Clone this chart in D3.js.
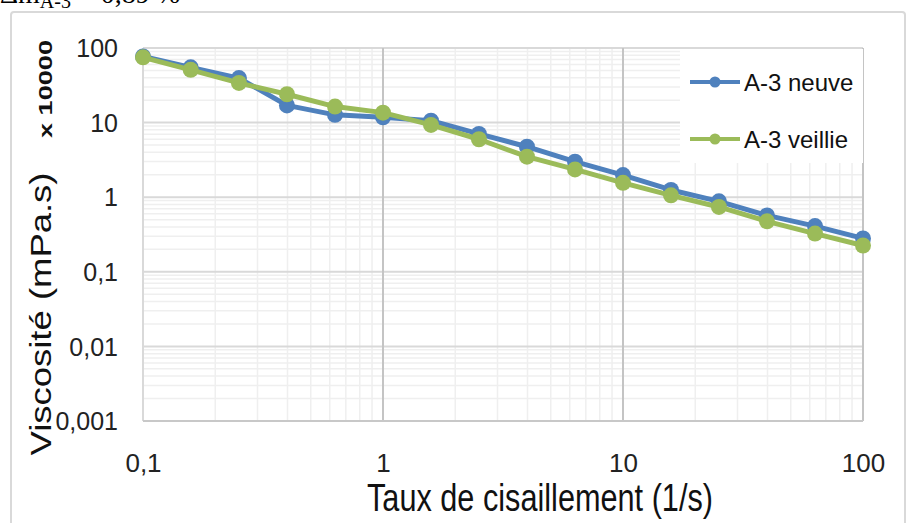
<!DOCTYPE html>
<html>
<head>
<meta charset="utf-8">
<script src="https://cdn.jsdelivr.net/npm/d3@7"></script>
<style>
html,body{margin:0;padding:0;background:#fff;}
svg{display:block;}
</style>
</head>
<body>
<svg id="chart" width="907" height="523"></svg>
<script>
// ---- data ----
const shearRates = [0.1, 0.158, 0.251, 0.398, 0.631, 1, 1.585, 2.51, 3.98, 6.31, 10, 15.85, 25.1, 39.8, 63.1, 100];
const neuve   = [77, 55, 39.5, 17, 12.7, 11.8, 10.6, 7.05, 4.75, 2.99, 1.98, 1.25, 0.88, 0.57, 0.41, 0.28];
const veillie = [75, 51, 34, 24, 16.4, 13.6, 9.3, 5.98, 3.49, 2.36, 1.56, 1.06, 0.74, 0.475, 0.325, 0.225];
const seriesNames = ["A-3 neuve", "A-3 veillie"];
const xTickValues = [0.1, 1, 10, 100];
const xTickLabels = ["0,1", "1", "10", "100"];
const yTickValues = [0.001, 0.01, 0.1, 1, 10, 100];
const yTickLabels = ["0,001", "0,01", "0,1", "1", "10", "100"];
const xTitle = "Taux de cisaillement (1/s)";
const yTitle = "Viscosité (mPa.s)";
const yMultiplier = "x 10000";

// ---- layout ----
const svg = d3.select("#chart");
const L = 143, R = 863, T = 48, B = 421;
const colors = ["#4f81bd", "#9bbb59"];
const tickFont = "'Liberation Sans Narrow','Liberation Sans',Arial,sans-serif";

// header text (cut off at top, as in the source image)
const head = svg.append("text").attr("x", 0).attr("y", 3)
  .attr("font-family", "'Liberation Serif','DejaVu Serif',serif").attr("font-size", 28).attr("fill", "#000");
head.append("tspan").text("Δm");
head.append("tspan").attr("dy", 5).attr("font-size", 20).text("A-3");
head.append("tspan").attr("dy", -5).text(" = 0,89 %");

// chart frame
svg.append("rect").attr("x", 11).attr("y", 12).attr("width", 894).attr("height", 600)
  .attr("rx", 3).attr("fill", "#fff").attr("stroke", "#d9d9d9").attr("stroke-width", 2);

const x = d3.scaleLog().domain([0.1, 100]).range([L, R]);
const y = d3.scaleLog().domain([0.001, 100]).range([B, T]);

// gridlines
const minorX = [], minorY = [];
for (let d = 0.1; d < 100; d *= 10) for (let k = 2; k <= 9; k++) minorX.push(+(d * k).toPrecision(3));
for (let d = 0.001; d < 100; d *= 10) for (let k = 2; k <= 9; k++) minorY.push(+(d * k).toPrecision(3));

const grid = svg.append("g");
grid.selectAll(".mh").data(minorY).join("line")
  .attr("x1", L).attr("x2", R).attr("y1", d => y(d)).attr("y2", d => y(d))
  .attr("stroke", "#efefef").attr("stroke-width", 1.5);
grid.selectAll(".mv").data(minorX).join("line")
  .attr("y1", T).attr("y2", B).attr("x1", d => x(d)).attr("x2", d => x(d))
  .attr("stroke", "#efefef").attr("stroke-width", 1.5);
grid.selectAll(".Mh").data(yTickValues.slice(1)).join("line")
  .attr("x1", L).attr("x2", R).attr("y1", d => y(d)).attr("y2", d => y(d))
  .attr("stroke", "#d9d9d9").attr("stroke-width", 2);
grid.selectAll(".Mv").data(xTickValues).join("line")
  .attr("y1", T).attr("y2", B).attr("x1", d => x(d)).attr("x2", d => x(d))
  .attr("stroke", d => (d === 0.1 ? "#d9d9d9" : "#c4c4c4")).attr("stroke-width", 2);
grid.append("line").attr("x1", L).attr("x2", R).attr("y1", B).attr("y2", B)
  .attr("stroke", "#c8c8c8").attr("stroke-width", 2);

// axes (labels only)
const xAxis = d3.axisBottom(x).tickValues(xTickValues)
  .tickFormat((d, i) => xTickLabels[i]).tickSize(0).tickPadding(0);
const gx = svg.append("g").attr("transform", `translate(0,${B})`).call(xAxis);
gx.select(".domain").remove();
gx.selectAll("text").attr("dy", null).attr("y", 51).attr("font-family", tickFont)
  .attr("font-size", 26).attr("fill", "#222");

const yAxis = d3.axisLeft(y).tickValues(yTickValues)
  .tickFormat((d, i) => yTickLabels[i]).tickSize(0).tickPadding(0);
const gy = svg.append("g").attr("transform", `translate(${118},0)`).call(yAxis);
gy.select(".domain").remove();
gy.selectAll("text").attr("x", 0).attr("dy", "0.35em").attr("font-family", tickFont)
  .attr("font-size", 25).attr("fill", "#222");

// legend background
svg.append("rect").attr("x", 680).attr("y", 49).attr("width", 183).attr("height", 114).attr("fill", "#fff");

// series
const line = d3.line().x((d, i) => x(shearRates[i])).y(d => y(d));
[neuve, veillie].forEach((vals, si) => {
  const g = svg.append("g");
  g.append("path").attr("d", line(vals)).attr("fill", "none")
    .attr("stroke", colors[si]).attr("stroke-width", 5).attr("stroke-linejoin", "round");
  g.selectAll("circle").data(vals).join("circle")
    .attr("cx", (d, i) => x(shearRates[i])).attr("cy", d => y(d)).attr("r", 8)
    .attr("fill", colors[si]);
});

// legend
const legY = [82, 139];
seriesNames.forEach((name, i) => {
  const g = svg.append("g");
  g.append("line").attr("x1", 690).attr("x2", 740).attr("y1", legY[i]).attr("y2", legY[i])
    .attr("stroke", colors[i]).attr("stroke-width", 4);
  g.append("circle").attr("cx", 715).attr("cy", legY[i]).attr("r", 5.5).attr("fill", colors[i]);
  g.append("text").attr("x", 744).attr("y", legY[i] + 8.5).text(name)
    .attr("font-family", "'Liberation Sans',Arial,sans-serif").attr("font-size", 24).attr("fill", "#111");
});

// axis titles
svg.append("text").attr("x", 540).attr("y", 511).attr("text-anchor", "middle")
  .attr("font-family", tickFont).attr("font-size", 38).attr("fill", "#111")
  .attr("textLength", 346).attr("lengthAdjust", "spacingAndGlyphs").text(xTitle);

svg.append("text").attr("transform", "translate(51,314) rotate(-90)").attr("text-anchor", "middle")
  .attr("font-family", "'Liberation Sans',Arial,sans-serif").attr("font-size", 29).attr("fill", "#111")
  .attr("textLength", 283).attr("lengthAdjust", "spacingAndGlyphs").text(yTitle);

svg.append("text").attr("transform", "translate(52,89) rotate(-90)").attr("text-anchor", "middle")
  .attr("font-family", "'Liberation Sans',Arial,sans-serif").attr("font-size", 19).attr("font-weight", "bold")
  .attr("fill", "#111").attr("textLength", 98).attr("lengthAdjust", "spacingAndGlyphs").text(yMultiplier);
</script>
</body>
</html>
